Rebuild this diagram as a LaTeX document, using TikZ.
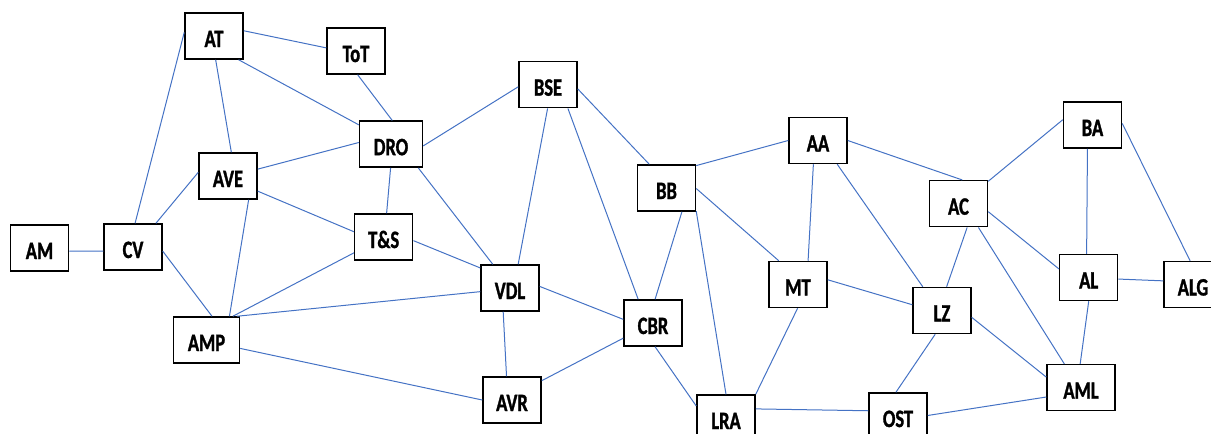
\documentclass[tikz,border=0pt]{standalone}
\usepackage{fontspec}
\newfontfamily\lbl{Carlito}[UprightFont={* Bold},FakeStretch=0.74,FakeBold=1.2]
\definecolor{edgeblue}{RGB}{68,114,196}
\begin{document}
\begin{tikzpicture}[x=1pt,y=-1pt,
  box/.style={draw=black, line width=1.5pt, fill=white, minimum width=58pt,
    minimum height=46pt, inner sep=0pt, text height=22pt, text depth=0pt,
    font=\lbl\fontsize{25}{30}\selectfont},
  link/.style={draw=edgeblue, line width=1pt}]
\useasboundingbox (0,0) rectangle (1211,434);
\clip (0,0) rectangle (1211,434);
% nodes
\node[box] (AT)  at (214,36)    {AT};
\node[box] (ToT) at (356,51)    {ToT};
\node[box, minimum width=63pt] (DRO) at (391,144.2) {DRO};
\node[box] (AVE) at (228,176)   {AVE};
\node[box] (AM)  at (39.5,248)  {AM};
\node[box] (CV)  at (133,247)   {CV};
\node[box] (TS)  at (383.7,237) {T\&S};
\node[box, minimum width=66pt] (AMP) at (206.5,340) {AMP};
\node[box] (BSE) at (548,84.7)  {BSE};
\node[box] (BB)  at (666.5,188) {BB};
\node[box] (VDL) at (510,288)   {VDL};
\node[box] (CBR) at (653,323)   {CBR};
\node[box] (AVR) at (512,400)   {AVR};
\node[box] (LRA) at (726,418)   {LRA};
\node[box] (AA)  at (818,140.5) {AA};
\node[box] (AC)  at (958.5,203.7) {AC};
\node[box] (MT)  at (798,284.5) {MT};
\node[box] (LZ)  at (942,310.5) {LZ};
\node[box] (AL)  at (1088.7,277.5) {AL};
\node[box] (ALG) at (1193,284.5) {ALG};
\node[box, minimum width=68pt] (AML) at (1081,387.7) {AML};
\node[box] (OST) at (898,416)   {OST};
\node[box] (BA)  at (1092.5,125) {BA};
% connectors
\draw[link] (AT.10) -- (ToT.174);
\draw[link] (AT.-44) -- (DRO.149);
\draw[link] (AT.-86) -- (AVE.82);
\draw[link] (AT.173) -- (CV.85);
\draw[link] (ToT.-86) -- (DRO.87);
\draw[link] (DRO.177) -- (AVE.13);
\draw[link] (DRO.-91) -- (TS.83);
\draw[link] (AVE.-27) -- (TS.170);
\draw[link] (AVE.173) -- (CV.46);
\draw[link] (AVE.-49) -- (AMP.46);
\draw[link] (DRO.-41) -- (VDL.126);
\draw[link] (DRO.-3) -- (BSE.184);
\draw[link] (AM.-6) -- (CV.188);
\draw[link] (CV.-8) -- (AMP.77);
\draw[link] (TS.208) -- (AMP.42);
\draw[link] (VDL.187) -- (AMP.38);
\draw[link] (AMP.-14) -- (AVR.west);
\draw[link] (TS.-7) -- (VDL.146);
\draw[link] (BSE.-91) -- (VDL.71);
\draw[link] (BSE.-50) -- (CBR.122);
\draw[link] (BSE.-8) -- (BB.126);
\draw[link] (BB.37) -- (AA.180);
\draw[link] (BB.-1) -- (MT.129);
\draw[link] (BB.-57) -- (CBR.85);
\draw[link] (BB.-38) -- (LRA.north);
\draw[link] (VDL.3) -- (CBR.173);
\draw[link] (VDL.-106) -- (AVR.103);
\draw[link] (AVR.33) -- (CBR.207);
\draw[link] (CBR.-85) -- (LRA.158);
\draw[link] (MT.-91) -- (LRA.north east);
\draw[link] (LRA.17) -- (OST.170);
\draw[link] (AA.-101) -- (MT.67);
\draw[link] (AA.-51) -- (LZ.129);
\draw[link] (AA.east) -- (AC.81);
\draw[link] (AC.37) -- (BA.170);
\draw[link] (AC.-15) -- (AL.164);
\draw[link] (AC.-70) -- (LZ.79);
\draw[link] (AC.-50) -- (AML.125);
\draw[link] (MT.9) -- (LZ.169);
\draw[link] (LZ.-13) -- (AML.163);
\draw[link] (LZ.-106) -- (OST.95);
\draw[link] (OST.1) -- (AML.195);
\draw[link] (AL.south) -- (AML.92);
\draw[link] (AL.-3) -- (ALG.173);
\draw[link] (BA.-102) -- (AL.95);
\draw[link] (BA.3) -- (ALG.97);
\end{tikzpicture}
\end{document}
